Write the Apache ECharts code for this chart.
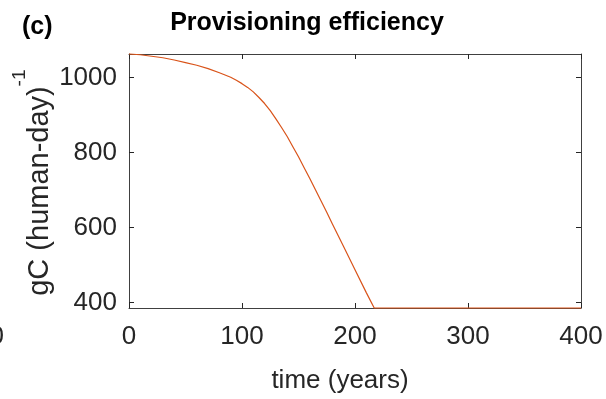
<!DOCTYPE html>
<html>
<head>
<meta charset="utf-8">
<script src="https://cdn.jsdelivr.net/npm/echarts@6/dist/echarts.min.js"></script>
<style>
  html, body { margin: 0; padding: 0; background: #fff; }
  #chart { width: 606px; height: 399px; }
</style>
</head>
<body>
<div id="chart"></div>
<script>
// time (years) and provisioning efficiency gC (human-day)^-1
var years = [0, 10, 20, 30, 40, 50, 60, 70, 80, 85, 90, 95, 100, 105, 110, 115, 120, 125, 130, 135, 140, 145, 150, 155, 160, 165, 170, 175, 180, 190, 200, 210, 217, 250, 300, 350, 400];
var efficiency = [1063, 1061, 1057, 1053, 1047, 1040, 1033, 1024, 1013, 1007, 1001, 993, 984, 974, 962, 947, 931, 912, 890, 867, 843, 816, 789, 760, 731, 701, 671, 641, 610, 549, 488, 427, 386, 386, 386, 386, 386];
var xTicks = [0, 100, 200, 300, 400];
var yTicks = [400, 600, 800, 1000];

var chart = echarts.init(document.getElementById('chart'));
var ink = '#262626';
var font = '"Liberation Sans", Arial, Helvetica, sans-serif';

var pts = years.map(function (t, i) { return [t, efficiency[i]]; });

var axisBase = {
  axisLine: { show: true, onZero: false, lineStyle: { color: '#404040', width: 1 } },
  axisLabel: { show: false },
  splitLine: { show: false }
};
var tickStyle = { show: true, inside: true, length: 5, lineStyle: { color: ink, width: 1 } };

chart.setOption({
  animation: false,
  backgroundColor: '#fff',
  grid: { left: 129, right: 25, top: 54, bottom: 91 },
  xAxis: [
    Object.assign({}, axisBase, { type: 'value', min: 0, max: 400, interval: 100, position: 'bottom', axisTick: tickStyle }),
    Object.assign({}, axisBase, { type: 'value', min: 0, max: 400, interval: 100, position: 'top', axisTick: tickStyle })
  ],
  yAxis: [
    Object.assign({}, axisBase, { type: 'value', min: 386, max: 1063, position: 'left',
      axisTick: Object.assign({}, tickStyle, { customValues: yTicks }) }),
    Object.assign({}, axisBase, { type: 'value', min: 386, max: 1063, position: 'right',
      axisTick: Object.assign({}, tickStyle, { customValues: yTicks }) })
  ],
  series: [{
    type: 'line',
    data: pts,
    showSymbol: false,
    clip: false,
    lineStyle: { color: '#D95319', width: 1.2 }
  }]
});

// tick labels placed from the axis scales
var labels = [];
xTicks.forEach(function (v) {
  var px = chart.convertToPixel({ xAxisIndex: 0 }, v);
  labels.push({ type: 'text', x: px, y: 337,
    style: { text: String(v), font: '26px ' + font, fill: ink, align: 'center', verticalAlign: 'middle' } });
});
yTicks.forEach(function (v) {
  var py = chart.convertToPixel({ yAxisIndex: 0 }, v);
  labels.push({ type: 'text', x: 117, y: py,
    style: { text: String(v), font: '26px ' + font, fill: ink, align: 'right', verticalAlign: 'middle' } });
});

chart.setOption({
  graphic: labels.concat([
    { type: 'text', x: 307, y: 23, style: { text: 'Provisioning efficiency', font: 'bold 25px ' + font, fill: '#000', align: 'center', verticalAlign: 'middle' } },
    { type: 'text', x: 22, y: 27, style: { text: '(c)', font: 'bold 25px ' + font, fill: '#000', align: 'left', verticalAlign: 'middle' } },
    { type: 'text', x: 340, y: 381, style: { text: 'time (years)', font: '26px ' + font, fill: ink, align: 'center', verticalAlign: 'middle' } },
    { type: 'text', x: 40, y: 191, rotation: Math.PI / 2, style: { text: 'gC (human-day)', font: '29px ' + font, fill: ink, align: 'center', verticalAlign: 'middle' } },
    { type: 'text', x: 20, y: 78, rotation: Math.PI / 2, style: { text: '-1', font: '19px ' + font, fill: ink, align: 'center', verticalAlign: 'middle' } },
    { type: 'text', x: 4, y: 337, style: { text: '0', font: '26px ' + font, fill: ink, align: 'right', verticalAlign: 'middle' } }
  ])
});
</script>
</body>
</html>
